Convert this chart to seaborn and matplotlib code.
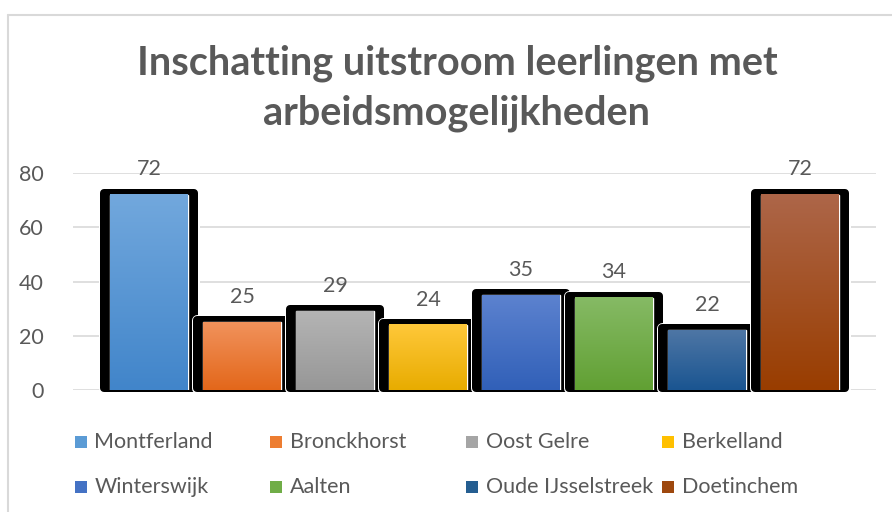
import numpy as np
import pandas as pd
import matplotlib.pyplot as plt
import matplotlib.colors as mcolors
from matplotlib.patches import Rectangle
from matplotlib.lines import Line2D
import seaborn as sns

# ── data ──────────────────────────────────────────────
gemeenten = ["Montferland", "Bronckhorst", "Oost Gelre", "Berkelland",
             "Winterswijk", "Aalten", "Oude IJsselstreek", "Doetinchem"]
waarden = [72, 25, 29, 24, 35, 34, 22, 72]
y_ticks = [0, 20, 40, 60, 80]
titel_regels = ["Inschatting uitstroom leerlingen met", "arbeidsmogelijkheden"]

# gradient per bar: top (light) -> bottom (dark), plus flat legend colour
kleur_boven = ["#72A8DD", "#F1925C", "#B4B4B4", "#FFC83A",
               "#5C82CF", "#86BA65", "#4E76A5", "#AD6649"]
kleur_onder = ["#4185CA", "#E3671A", "#979797", "#E8AC00",
               "#3160B8", "#61A033", "#1A5591", "#993D00"]
kleur_legenda = ["#5B9BD5", "#ED7D31", "#A5A5A5", "#FFC000",
                 "#4472C4", "#70AD47", "#255E91", "#9E480E"]

GRIJS_TEKST = "#595959"
GRIJS_LIJN = "#D9D9D9"

sns.set_style("white")
plt.rcParams["font.family"] = ["Lato", "DejaVu Sans"]

df = pd.DataFrame({"groep": [""] * len(gemeenten),
                   "gemeente": gemeenten,
                   "waarde": waarden})

W, H = 892, 512
PT = 72 / 100  # points per pixel at dpi 100
fig = plt.figure(figsize=(W / 100, H / 100), dpi=100)
ax = fig.add_axes([73 / W, 1 - 390 / H, 803 / W, 217 / H])

sns.barplot(data=df, x="groep", y="waarde", hue="gemeente",
            hue_order=gemeenten, palette=kleur_legenda, saturation=1,
            width=0.9265, gap=0.17, dodge=True, errorbar=None,
            legend=False, ax=ax)

ax.set_xlim(-0.5, 0.5)
ax.set_ylim(y_ticks[0], y_ticks[-1])

# pixel -> data units (for the thick rounded black bevel behind each bar)
px_x = 1.0 / 803
px_y = (y_ticks[-1] - y_ticks[0]) / 217
grad = np.linspace(0, 1, 256).reshape(-1, 1)
rand = 8  # px, thickness of the rounding stroke

for i, (cont, top, bottom) in enumerate(zip(ax.containers, kleur_boven, kleur_onder)):
    bar = cont.patches[0]
    x0, w, h = bar.get_x(), bar.get_width(), bar.get_height()
    bar.set_zorder(3)
    # outer box: 10 px beside, 6 px above the fill; inset by half the stroke
    bx = x0 - (10 - rand / 2) * px_x
    by = -2 * px_y + rand / 2 * px_y
    bw = w + 2 * (10 - rand / 2) * px_x
    bh = h + (8 - rand) * px_y
    ax.add_patch(Rectangle((bx, by), bw, bh, facecolor="white", edgecolor="white",
                           lw=(rand + 3) * PT, joinstyle="round",
                           zorder=2 + i * 0.01, clip_on=False))
    ax.add_patch(Rectangle((bx, by), bw, bh, facecolor="black", edgecolor="black",
                           lw=rand * PT, joinstyle="round",
                           zorder=2.005 + i * 0.01, clip_on=False))
    cmap = mcolors.LinearSegmentedColormap.from_list("verloop", [bottom, top])
    ax.imshow(grad, extent=[x0, x0 + w, 0, h], origin="lower", cmap=cmap,
              aspect="auto", interpolation="bilinear", zorder=3.5)
    ax.bar_label(cont, padding=11, fontsize=15.5, color=GRIJS_TEKST)

ax.set_xlim(-0.5, 0.5)
ax.set_ylim(y_ticks[0], y_ticks[-1])
ax.set_yticks(y_ticks)
ax.set_xticks([])
ax.set_xlabel("")
ax.set_ylabel("")
ax.yaxis.grid(True, color=GRIJS_LIJN, lw=1.2)
ax.set_axisbelow(True)
sns.despine(ax=ax, left=True, bottom=True)
ax.tick_params(axis="y", length=0, pad=21, labelsize=15.5, labelcolor=GRIJS_TEKST)

# ── title ─────────────────────────────────────────────
for regel, ypix in zip(titel_regels, [63, 113]):
    fig.text(457 / W, 1 - ypix / H, regel, ha="center", va="center",
             fontsize=28.5, fontweight="bold", color=GRIJS_TEKST)

# ── legend (4 equal columns, 2 rows like Excel) ───────
kol_x = [80.5, 276, 472, 668]
rij_y = [442, 487]
for i, (naam, kleur) in enumerate(zip(gemeenten, kleur_legenda)):
    cx, cy = kol_x[i % 4], rij_y[i // 4]
    fig.add_artist(Rectangle(((cx - 6) / W, 1 - (cy + 6) / H), 12 / W, 12 / H,
                             transform=fig.transFigure, facecolor=kleur,
                             edgecolor="none"))
    fig.text((cx + 14) / W, 1 - cy / H, naam, ha="left", va="center",
             fontsize=15.5, color=GRIJS_TEKST)

# ── chart frame (Excel chart area border) ─────────────
fig.add_artist(Line2D([8 / W, 8 / W], [0, 1 - 15 / H], transform=fig.transFigure,
                      color=GRIJS_LIJN, lw=1.5))
fig.add_artist(Line2D([8 / W, 1], [1 - 15 / H, 1 - 15 / H], transform=fig.transFigure,
                      color=GRIJS_LIJN, lw=1.5))

fig.savefig("out.png", dpi=100, facecolor="white")
plt.close(fig)
